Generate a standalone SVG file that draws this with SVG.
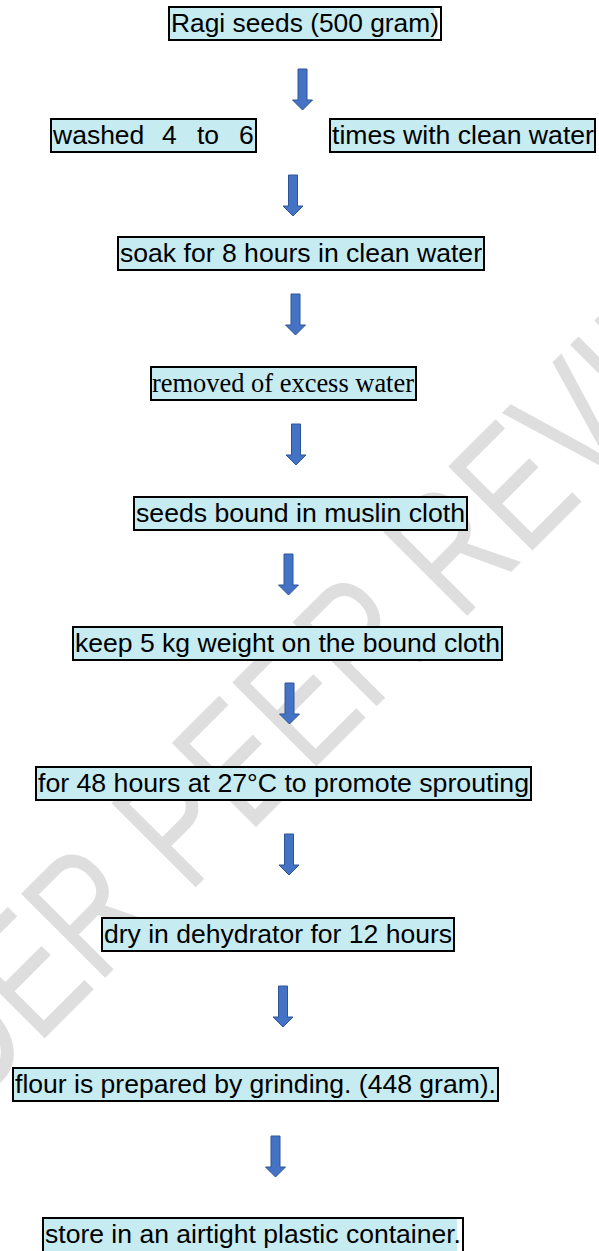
<svg xmlns="http://www.w3.org/2000/svg" width="599" height="1251" viewBox="0 0 599 1251">
<style>
.box{fill:#c6ebf1;stroke:#000;stroke-width:2}
.plain{fill:#fff;stroke:#000;stroke-width:2}
.hl{fill:#c6ebf1}
.t{font-family:"Liberation Sans",Arial,sans-serif;font-size:26.5px;fill:#000}
.ts{font-family:"Liberation Serif","Times New Roman",serif;font-size:26.5px;fill:#000}
.arrow{fill:#4472c4;stroke:#2f5597;stroke-width:1}
.wm{font-family:"Liberation Sans",Arial,sans-serif;font-size:128px;fill:#dedede}
</style>
<defs>
<path id="arr" d="M-4.5,0H4.5V31H10L0,41L-10,31H-4.5Z"/>
</defs>
<rect width="599" height="1251" fill="#fff"/>
<text class="wm" text-anchor="middle" transform="translate(329,754) rotate(-45) scale(1,1.35)">UNDER PEER REVIEW</text>

<g id="connectors">
<use href="#arr" class="arrow" x="302.5" y="69"/>
<use href="#arr" class="arrow" x="293" y="175"/>
<use href="#arr" class="arrow" x="295.5" y="294"/>
<use href="#arr" class="arrow" x="296" y="424"/>
<use href="#arr" class="arrow" x="288.5" y="554"/>
<use href="#arr" class="arrow" x="289.5" y="683"/>
<use href="#arr" class="arrow" x="289" y="834"/>
<use href="#arr" class="arrow" x="283" y="986"/>
<use href="#arr" class="arrow" x="275.5" y="1136"/>
</g>

<g id="n1">
<rect class="plain" x="169" y="7" width="272" height="33"/>
<rect class="hl" x="170" y="8" width="264" height="31"/>
<text class="t" x="171" y="31.5" textLength="268" lengthAdjust="spacingAndGlyphs">Ragi seeds (500 gram)</text>
</g>
<g id="n2a">
<rect class="box" x="51" y="119" width="205" height="33"/>
<text class="t" y="143.5"><tspan x="53">washed</tspan><tspan x="162">4</tspan><tspan x="197">to</tspan><tspan x="239">6</tspan></text>
</g>
<g id="n2b">
<rect class="box" x="330" y="119" width="265" height="33"/>
<text class="t" x="332" y="143.5" textLength="262" lengthAdjust="spacingAndGlyphs">times with clean water</text>
</g>
<g id="n3">
<rect class="box" x="118" y="237" width="366" height="33"/>
<text class="t" x="120" y="261.5" textLength="362" lengthAdjust="spacingAndGlyphs">soak for 8 hours in clean water</text>
</g>
<g id="n4">
<rect class="box" x="151" y="367" width="265" height="33"/>
<text class="ts" x="152" y="391.5" textLength="262" lengthAdjust="spacingAndGlyphs">removed of excess water</text>
</g>
<g id="n5">
<rect class="box" x="134" y="497" width="333" height="33"/>
<text class="t" x="136" y="521.5" textLength="329" lengthAdjust="spacingAndGlyphs">seeds bound in muslin cloth</text>
</g>
<g id="n6">
<rect class="box" x="73" y="627" width="429" height="33"/>
<text class="t" x="75" y="651.5" textLength="425" lengthAdjust="spacingAndGlyphs">keep 5 kg weight on the bound cloth</text>
</g>
<g id="n7">
<rect class="box" x="36" y="767" width="495" height="33"/>
<text class="t" x="38" y="791.5" textLength="491" lengthAdjust="spacingAndGlyphs">for 48 hours at 27°C to promote sprouting</text>
</g>
<g id="n8">
<rect class="box" x="102" y="918" width="352" height="33"/>
<text class="t" x="104" y="942.5" textLength="348" lengthAdjust="spacingAndGlyphs">dry in dehydrator for 12 hours</text>
</g>
<g id="n9">
<rect class="box" x="13" y="1068" width="485" height="33"/>
<text class="t" x="15" y="1092.5" textLength="481" lengthAdjust="spacingAndGlyphs">flour is prepared by grinding. (448 gram).</text>
</g>
<g id="n10">
<rect class="plain" x="43" y="1218" width="420" height="34"/>
<rect class="hl" x="44" y="1219" width="413" height="32"/>
<text class="t" x="45" y="1242.5" textLength="416" lengthAdjust="spacingAndGlyphs">store in an airtight plastic container.</text>
</g>
</svg>
